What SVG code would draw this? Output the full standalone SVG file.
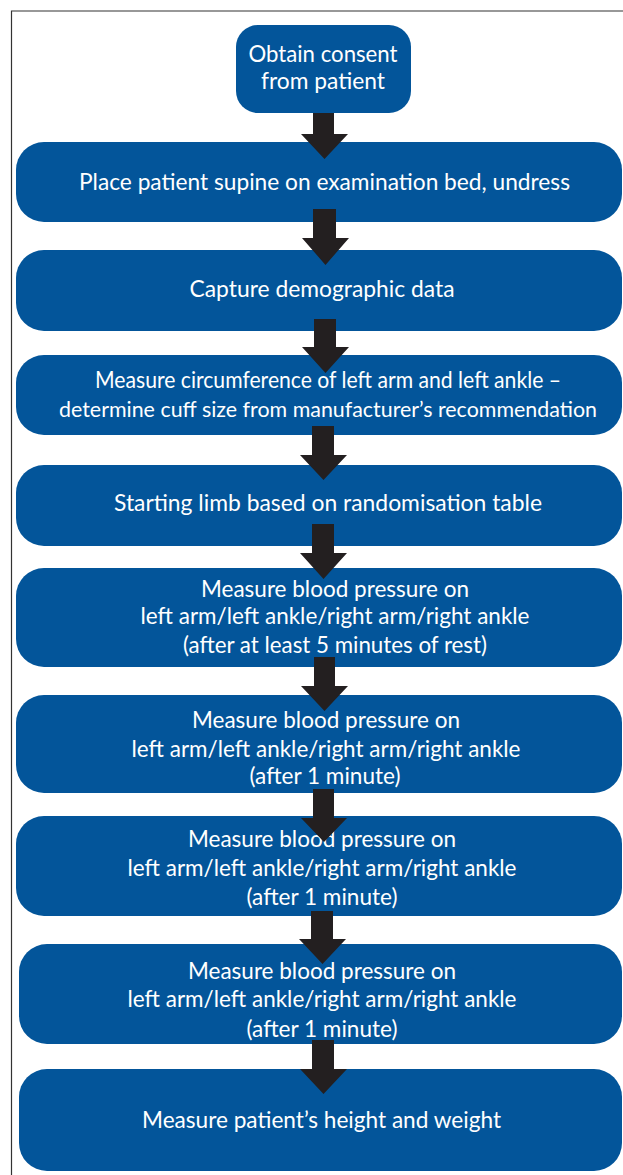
<svg xmlns="http://www.w3.org/2000/svg" width="623" height="1175" viewBox="0 0 623 1175">
<style>
.box{fill:#03559a;}
.t{fill:#ffffff;font-family:Lato,"Liberation Sans",sans-serif;font-size:23px;text-anchor:middle;}
.arr{fill:#231f20;}
.frame{fill:none;stroke:#333333;stroke-width:1.2;}
</style>
<rect x="0" y="0" width="623" height="1175" fill="#ffffff"/>
<path class="frame" d="M11.5,1175 V11 H623"/>
<g id="node1"><rect class="box" x="236" y="25" width="175" height="88" rx="22"/>
<text class="t" x="323" y="62" textLength="149" lengthAdjust="spacingAndGlyphs">Obtain consent</text>
<text class="t" x="323" y="89" textLength="124" lengthAdjust="spacingAndGlyphs">from patient</text></g>
<g id="node2"><rect class="box" x="16" y="142" width="606" height="80" rx="28"/>
<text class="t" x="324.5" y="190" textLength="491" lengthAdjust="spacingAndGlyphs">Place patient supine on examination bed, undress</text></g>
<g id="node3"><rect class="box" x="16" y="250" width="606" height="81" rx="28"/>
<text class="t" x="322" y="297" textLength="265" lengthAdjust="spacingAndGlyphs">Capture demographic data</text></g>
<g id="node4"><rect class="box" x="16" y="355" width="606" height="80" rx="28"/>
<text class="t" x="328" y="388" textLength="466" lengthAdjust="spacingAndGlyphs">Measure circumference of left arm and left ankle –</text>
<text class="t" x="328" y="417" style="font-size:22px" textLength="538" lengthAdjust="spacingAndGlyphs">determine cuff size from manufacturer’s recommendation</text></g>
<g id="node5"><rect class="box" x="16" y="465" width="606" height="81" rx="28"/>
<text class="t" x="328" y="511" textLength="428" lengthAdjust="spacingAndGlyphs">Starting limb based on randomisation table</text></g>
<g id="node6"><rect class="box" x="16" y="568" width="606" height="99" rx="28"/>
<text class="t" x="335" y="597" textLength="268" lengthAdjust="spacingAndGlyphs">Measure blood pressure on</text>
<text class="t" x="335" y="624" textLength="389" lengthAdjust="spacingAndGlyphs">left arm/left ankle/right arm/right ankle</text>
<text class="t" x="335" y="653" textLength="304" lengthAdjust="spacingAndGlyphs">(after at least 5 minutes of rest)</text></g>
<g id="node7"><rect class="box" x="16" y="695" width="606" height="98" rx="28"/>
<text class="t" x="326" y="728" textLength="268" lengthAdjust="spacingAndGlyphs">Measure blood pressure on</text>
<text class="t" x="326" y="757" textLength="389" lengthAdjust="spacingAndGlyphs">left arm/left ankle/right arm/right ankle</text>
<text class="t" x="325" y="784" textLength="151" lengthAdjust="spacingAndGlyphs">(after 1 minute)</text></g>
<g id="node8"><rect class="box" x="16" y="816" width="606" height="100" rx="28"/>
<text class="t" x="322" y="847" textLength="268" lengthAdjust="spacingAndGlyphs">Measure blood pressure on</text>
<text class="t" x="322" y="876" textLength="389" lengthAdjust="spacingAndGlyphs">left arm/left ankle/right arm/right ankle</text>
<text class="t" x="322" y="905" textLength="151" lengthAdjust="spacingAndGlyphs">(after 1 minute)</text></g>
<g id="node9"><rect class="box" x="19" y="944" width="603" height="100" rx="28"/>
<text class="t" x="322" y="979" textLength="268" lengthAdjust="spacingAndGlyphs">Measure blood pressure on</text>
<text class="t" x="322" y="1007" textLength="389" lengthAdjust="spacingAndGlyphs">left arm/left ankle/right arm/right ankle</text>
<text class="t" x="322" y="1037" textLength="151" lengthAdjust="spacingAndGlyphs">(after 1 minute)</text></g>
<g id="node10"><rect class="box" x="19" y="1069" width="603" height="102" rx="28"/>
<text class="t" x="321.5" y="1128" textLength="359" lengthAdjust="spacingAndGlyphs">Measure patient’s height and weight</text></g>
<g id="connectors">
<polygon class="arr" points="313,113 334,113 334,134 348,134 324.5,159 301,134 313,134"/>
<polygon class="arr" points="313,209 336,209 336,238 349,238 325.5,265 302,238 313,238"/>
<polygon class="arr" points="314,319 336,319 336,347 349,347 325.5,373 302,347 314,347"/>
<polygon class="arr" points="312,426 334,426 334,455 347,455 323.5,480 300,455 312,455"/>
<polygon class="arr" points="312,524 334,524 334,553 347,553 323.5,579 300,553 312,553"/>
<polygon class="arr" points="314,657 335,657 335,686 348,686 324.5,711 301,686 314,686"/>
<polygon class="arr" points="313,789 334,789 334,818 347,818 324,842 301,818 313,818"/>
<polygon class="arr" points="311,911 333,911 333,939 346,939 322.5,964 299,939 311,939"/>
<polygon class="arr" points="312,1040 334,1040 334,1069 347,1069 323.5,1094 300,1069 312,1069"/>
</g>
</svg>
